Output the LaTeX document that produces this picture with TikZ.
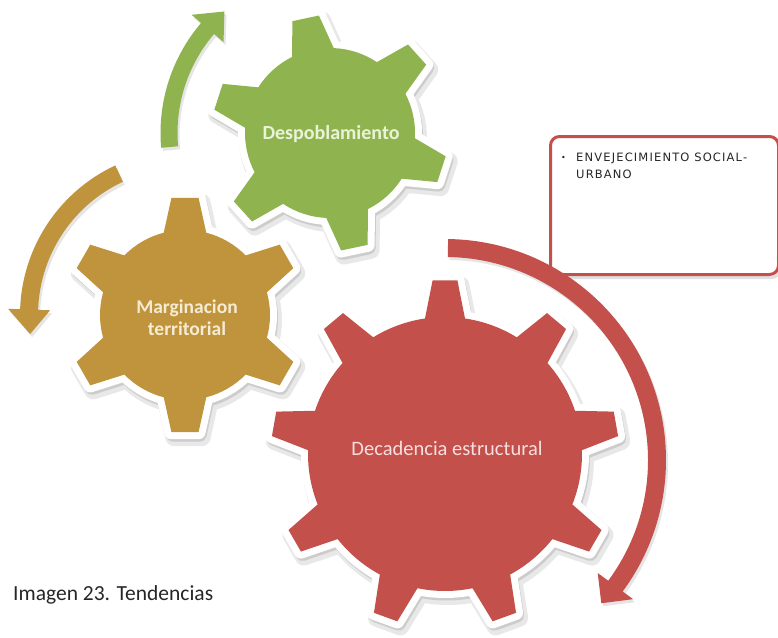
\documentclass[tikz,border=0pt]{standalone}
\usepackage{fontspec}
\setmainfont{Carlito}
\newfontfamily\boxfont[LetterSpace=10]{DejaVu Sans}
\newfontfamily\bulfont{DejaVu Sans}
\usetikzlibrary{calc}
\definecolor{gGreen}{HTML}{8FB44F}
\definecolor{gBrown}{HTML}{BF943C}
\definecolor{gRed}{HTML}{C4504B}
\definecolor{tGreen}{HTML}{EAF2D8}
\definecolor{tBrown}{HTML}{F6EBD3}
\definecolor{tRed}{HTML}{F6E0DF}
% gear outline: #1 last tooth index, #2 tooth step, #3 offset, #4 body r, #5 tip r, #6 base half-angle, #7 tip half-angle
\newcommand\gearpath[7]{({#3-#6}:#4) \foreach \k in {0,...,#1}{ -- ({#3+\k*#2-#7}:#5) -- ({#3+\k*#2+#7}:#5) -- ({#3+\k*#2+#6}:#4) arc[start angle={#3+\k*#2+#6}, end angle={#3+(\k+1)*#2-#6}, radius=#4] } -- cycle}
% circular arrow: #1 r, #2 start angle, #3 head base angle, #4 tip angle, #5 half body width, #6 half head width
\newcommand\circarrow[6]{({#2}:{#1+#5}) arc[start angle=#2, end angle=#3, radius={#1+#5}] -- ({#3}:{#1+#6}) -- ({#4}:#1) -- ({#3}:{#1-#6}) -- ({#3}:{#1-#5}) arc[start angle=#3, end angle=#2, radius={#1-#5}] -- cycle}
\tikzset{
  gshadowA/.style={fill=black!9, draw=black!9, line width=18pt, line join=round, shift={(3,-5)}},
  gshadowB/.style={fill=black!20, draw=black!20, line width=13pt, line join=round, shift={(1.5,-3)}},
  gborder/.style={fill=white, draw=white, line width=14pt, line join=round},
  ashadow/.style={fill=black!10, shift={(2,-3)}},
  glabel/.style={inner sep=0pt, anchor=base},
}
\begin{document}
\begin{tikzpicture}[x=1pt,y=1pt]
\useasboundingbox (0,0) rectangle (778,-637);
\fill[white] (0,0) rectangle (778,-637);

% ---------- arrows ----------
\begin{scope}[shift={(330,-133)}]
  \fill[ashadow] \circarrow{161}{185}{139.5}{131}{8.5}{21};
  \fill[gGreen] \circarrow{161}{185}{139.5}{131}{8.5}{21};
\end{scope}
\begin{scope}[shift={(185,-315)}]
  \fill[ashadow] \circarrow{156}{115}{178}{187}{9}{21};
  \fill[gBrown] \circarrow{156}{115}{178}{187}{9}{21};
\end{scope}

% ---------- green gear ----------
\begin{scope}[shift={(330,-133)}]
  \filldraw[gshadowA] \gearpath{5}{60}{102}{85}{118}{14.5}{6.6};
  \filldraw[gshadowB] \gearpath{5}{60}{102}{85}{118}{14.5}{6.6};
  \filldraw[gborder] \gearpath{5}{60}{102}{85}{118}{14.5}{6.6};
  \fill[gGreen] \gearpath{5}{60}{102}{85}{118}{14.5}{6.6};
\end{scope}
\node[glabel, text=tGreen, font=\bfseries\fontsize{20}{24}\selectfont] (despo) at (331,-139.5) {Despoblamiento};

% ---------- brown gear ----------
\begin{scope}[shift={(185,-315)}]
  \filldraw[gshadowA] \gearpath{5}{60}{90}{85}{118}{14.5}{6.6};
  \filldraw[gshadowB] \gearpath{5}{60}{90}{85}{118}{14.5}{6.6};
  \filldraw[gborder] \gearpath{5}{60}{90}{85}{118}{14.5}{6.6};
  \fill[gBrown] \gearpath{5}{60}{90}{85}{118}{14.5}{6.6};
\end{scope}
\node[glabel, text=tBrown, font=\bfseries\fontsize{19.5}{23}\selectfont] (marg1) at (187,-313) {Marginacion};
\node[glabel, text=tBrown, font=\bfseries\fontsize{19.5}{23}\selectfont] (marg2) at (187,-335) {territorial};

% ---------- red gear ----------
\begin{scope}[shift={(445,-454)}]
  \filldraw[gshadowA] \gearpath{8}{40}{90}{137}{174}{8.4}{4.1};
  \filldraw[gshadowB] \gearpath{8}{40}{90}{137}{174}{8.4}{4.1};
  \filldraw[gborder] \gearpath{8}{40}{90}{137}{174}{8.4}{4.1};
  \fill[gRed] \gearpath{8}{40}{90}{137}{174}{8.4}{4.1};
\end{scope}
\node[glabel, text=tRed, font=\fontsize{20.5}{24}\selectfont] (deca) at (447,-455) {Decadencia estructural};

% ---------- text box ----------
\node[draw=black!12, line width=3pt, rounded corners=9pt, minimum width=228pt, minimum height=138pt, anchor=north west, inner sep=0pt] (boxsh) at (551,-138) {};
\node[draw=gRed, line width=3pt, rounded corners=9pt, fill=white, minimum width=228pt, minimum height=138pt, anchor=north west, inner sep=0pt] (box) at (549,-135) {};
\node[glabel, anchor=base west, font=\bulfont\fontsize{8}{9}\selectfont, text=black!85] (bul) at (561,-160) {•};
\node[glabel, anchor=base west, font=\boxfont\fontsize{11.5}{13}\selectfont, text=black!85] (bx1) at (576,-161) {ENVEJECIMIENTO SOCIAL-};
\node[glabel, anchor=base west, font=\boxfont\fontsize{11.5}{13}\selectfont, text=black!85] (bx2) at (576,-178) {URBANO};

% ---------- red arrow ----------
\begin{scope}[shift={(445,-460)}]
  \fill[ashadow] \circarrow{212}{89.2}{-36.5}{-42.5}{9}{22};
  \fill[gRed] \circarrow{212}{89.2}{-36.5}{-42.5}{9}{22};
\end{scope}

% ---------- caption ----------
\node[glabel, anchor=base west, font=\fontsize{21.5}{26}\selectfont, text=black!85] (cap) at (13,-600) {Imagen 23. Tendencias};
\end{tikzpicture}
\end{document}
